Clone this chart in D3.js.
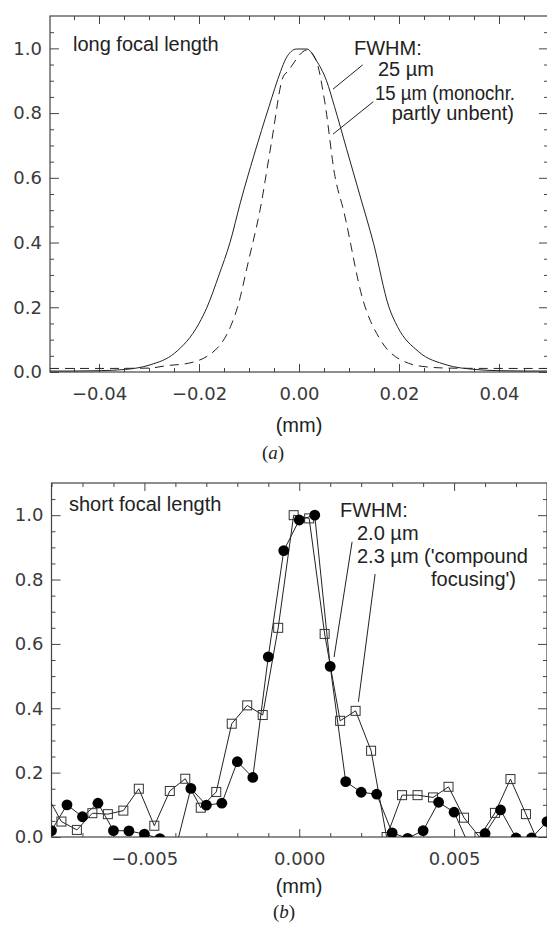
<!DOCTYPE html>
<html><head><meta charset="utf-8">
<script src="https://cdn.jsdelivr.net/npm/d3@7"></script>
<style>
html,body{margin:0;padding:0;background:#fff;}
svg{display:block;}
</style></head><body>
<script>
// ---------- Panel (a): long focal length ----------
const topSolidX = [-0.0498,-0.0448,-0.0400,-0.0347,-0.0298,-0.0249,-0.0200,-0.0184,-0.0160,-0.0138,-0.0117,-0.0090,-0.0060,-0.0037,-0.0026,-0.0005,0.0016,0.0034,0.0055,0.0071,0.0095,0.0121,0.0149,0.0180,0.0197,0.0239,0.0295,0.0351,0.0400,0.0449,0.0498];
const topSolidY = [0.003,0.003,0.004,0.008,0.022,0.058,0.150,0.20,0.30,0.40,0.525,0.67,0.82,0.928,0.969,0.998,0.998,0.964,0.900,0.82,0.69,0.55,0.398,0.20,0.14,0.063,0.022,0.008,0.004,0.003,0.003];
const topDashX = [-0.0498,-0.0400,-0.0300,-0.0263,-0.0221,-0.0161,-0.0137,-0.0123,-0.0100,-0.0078,-0.0055,-0.0032,-0.0023,0.0016,0.0034,0.0051,0.0072,0.0089,0.0128,0.0163,0.0219,0.0254,0.0300,0.0400,0.0498];
const topDashY = [0.011,0.011,0.012,0.020,0.027,0.078,0.14,0.20,0.35,0.50,0.71,0.911,0.928,0.995,0.964,0.84,0.604,0.50,0.222,0.099,0.027,0.016,0.012,0.011,0.011];
const topXTicks = [-0.04,-0.02,0.00,0.02,0.04];
const topXMinor = [-0.045,-0.035,-0.03,-0.025,-0.015,-0.01,-0.005,0.005,0.01,0.015,0.025,0.03,0.035,0.045];

// ---------- Panel (b): short focal length ----------
const botCircX = [-0.0080,-0.0075,-0.0070,-0.0065,-0.0060,-0.0055,-0.0050,-0.0045,-0.0040,-0.0035,-0.0030,-0.0025,-0.0020,-0.0015,-0.0010,-0.0005,0.0000,0.0005,0.0010,0.0015,0.0020,0.0025,0.0030,0.0035,0.0040,0.0045,0.0050,0.0055,0.0060,0.0065,0.0070,0.0075,0.0080];
const botCircY = [0.020,0.100,0.063,0.105,0.020,0.019,0.009,-0.005,-0.040,0.151,0.099,0.105,0.234,0.185,0.560,0.890,0.985,1.000,0.530,0.172,0.139,0.133,0.013,-0.004,0.020,0.108,0.077,-0.030,0.011,0.084,-0.003,-0.003,0.048];
const botSqX = [-0.00818,-0.00768,-0.00718,-0.00668,-0.00618,-0.00568,-0.00518,-0.00468,-0.00418,-0.00368,-0.00318,-0.00268,-0.00218,-0.00168,-0.00118,-0.00068,-0.00018,0.00032,0.00082,0.00132,0.00182,0.00232,0.00282,0.00332,0.00382,0.00432,0.00482,0.00532,0.00582,0.00632,0.00682,0.00732,0.00782];
const botSqY = [0.135,0.048,0.022,0.074,0.071,0.082,0.150,0.035,0.143,0.181,0.091,0.140,0.352,0.409,0.379,0.650,1.000,0.990,0.631,0.361,0.392,0.268,0.000,0.130,0.130,0.123,0.156,0.060,0.000,0.075,0.180,0.071,-0.040];
const botXTicks = [-0.005,0.000,0.005];
const botXMinor = [-0.008,-0.007,-0.006,-0.004,-0.003,-0.002,-0.001,0.001,0.002,0.003,0.004,0.006,0.007,0.008];

const yTicks = [0.0,0.2,0.4,0.6,0.8,1.0];
const yMinor = [0.05,0.1,0.15,0.25,0.3,0.35,0.45,0.5,0.55,0.65,0.7,0.75,0.85,0.9,0.95,1.05];

const W = 547, H = 925;
const INK = "#222", AX = "#444";
const TICKFONT = "'DejaVu Sans', sans-serif";
const TXTFONT = "'Liberation Sans', Arial, sans-serif";
const FS = 20;

const svg = d3.select("body").append("svg").attr("width", W).attr("height", H);

function drawFrame(g, x, y, xMaj, xMin, fmt, id) {
  const [x0, x1] = x.range(), [yb, yt] = y.range();
  const ax = (sel) => { sel.select(".domain").remove(); sel.selectAll("line").attr("stroke", AX); };
  const lab = (s) => s.selectAll("text").attr("font-family", TICKFONT).attr("font-size", 18).attr("fill", "#3a3a3a");
  g.append("g").attr("transform", `translate(0,${yb})`)
    .call(d3.axisBottom(x).tickValues(xMaj).tickSizeInner(-8).tickSizeOuter(0).tickPadding(15).tickFormat(fmt))
    .call(ax).call(lab);
  g.append("g").attr("transform", `translate(0,${yb})`)
    .call(d3.axisBottom(x).tickValues(xMin).tickSizeInner(-4).tickSizeOuter(0).tickFormat(""))
    .call(ax);
  g.append("g").attr("transform", `translate(0,${yt})`)
    .call(d3.axisTop(x).tickValues(xMaj).tickSizeInner(-8).tickSizeOuter(0).tickFormat("")).call(ax);
  g.append("g").attr("transform", `translate(0,${yt})`)
    .call(d3.axisTop(x).tickValues(xMin).tickSizeInner(-4).tickSizeOuter(0).tickFormat("")).call(ax);
  g.append("g").attr("transform", `translate(${x0},0)`)
    .call(d3.axisLeft(y).tickValues(yTicks).tickSizeInner(-9).tickSizeOuter(0).tickPadding(8).tickFormat(d3.format(".1f")))
    .call(ax).call(lab);
  g.append("g").attr("transform", `translate(${x0},0)`)
    .call(d3.axisLeft(y).tickValues(yMinor).tickSizeInner(-4).tickSizeOuter(0).tickFormat("")).call(ax);
  g.append("g").attr("transform", `translate(${x1},0)`)
    .call(d3.axisRight(y).tickValues(yTicks).tickSizeInner(-9).tickSizeOuter(0).tickFormat("")).call(ax);
  g.append("g").attr("transform", `translate(${x1},0)`)
    .call(d3.axisRight(y).tickValues(yMinor).tickSizeInner(-4).tickSizeOuter(0).tickFormat("")).call(ax);
  g.append("rect").attr("x", x0).attr("y", yt).attr("width", x1 - x0).attr("height", yb - yt)
    .attr("fill", "none").attr("stroke", AX).attr("stroke-width", 1.2);
  svg.append("defs").append("clipPath").attr("id", id)
    .append("rect").attr("x", x0).attr("y", yt).attr("width", x1 - x0).attr("height", yb - yt);
}

function text(g, x, y, s, anchor, size) {
  return g.append("text").attr("x", x).attr("y", y).attr("text-anchor", anchor || "start")
    .attr("font-family", TXTFONT).attr("font-size", size || FS).attr("fill", INK).text(s);
}
function caption(g, x, y, letter) {
  const cap = g.append("text").attr("x", x).attr("y", y).attr("text-anchor", "middle")
    .attr("font-family", "'Liberation Serif', 'Times New Roman', serif").attr("font-size", 19).attr("fill", INK);
  cap.append("tspan").text("(");
  cap.append("tspan").attr("font-style", "italic").text(letter);
  cap.append("tspan").text(")");
}
function leader(g, x, y, a, b) {
  g.append("line").attr("x1", x(a[0])).attr("y1", y(a[1])).attr("x2", x(b[0])).attr("y2", y(b[1]))
    .attr("stroke", INK).attr("stroke-width", 1);
}

// ---------- Panel (a) ----------
{
  const x = d3.scaleLinear().domain([-0.0498, 0.0498]).range([50, 548]);
  const y = d3.scaleLinear().domain([0, 1.1]).range([372, 16]);
  const g = svg.append("g");
  drawFrame(g, x, y, topXTicks, topXMinor, d3.format(".2f"), "clipA");
  const pg = g.append("g").attr("clip-path", "url(#clipA)");
  const line = d3.line().x(d => x(d[0])).y(d => y(d[1])).curve(d3.curveMonotoneX);
  pg.append("path").datum(d3.zip(topSolidX, topSolidY)).attr("d", line)
    .attr("fill", "none").attr("stroke", INK).attr("stroke-width", 1);
  pg.append("path").datum(d3.zip(topDashX, topDashY)).attr("d", line)
    .attr("fill", "none").attr("stroke", INK).attr("stroke-width", 1).attr("stroke-dasharray", "9,6");

  text(g, 73, 51, "long focal length");
  text(g, 354, 55, "FWHM:");
  text(g, 378, 76, "25 \u00B5m");
  text(g, 375, 100, "15 \u00B5m (monochr.").attr("textLength", 140).attr("lengthAdjust", "spacingAndGlyphs");
  text(g, 514, 120, "partly unbent)", "end");
  leader(g, x, y, [0.01274, 0.949], [0.0068, 0.874]);
  leader(g, x, y, [0.01484, 0.835], [0.0068, 0.735]);
  text(g, 299, 432, "(mm)", "middle");
  caption(g, 273, 459, "a");
}

// ---------- Panel (b) ----------
{
  const x = d3.scaleLinear().domain([-0.008, 0.008]).range([51.5, 547]);
  const y = d3.scaleLinear().domain([0, 1.1]).range([837, 483]);
  const g = svg.append("g");
  drawFrame(g, x, y, botXTicks, botXMinor, d3.format(".3f"), "clipB");
  const pg = g.append("g").attr("clip-path", "url(#clipB)");
  const line = d3.line().x(d => x(d[0])).y(d => y(d[1]));
  const sq = d3.zip(botSqX, botSqY), ci = d3.zip(botCircX, botCircY);
  pg.append("path").datum(sq).attr("d", line).attr("fill", "none").attr("stroke", INK).attr("stroke-width", 1);
  pg.append("path").datum(ci).attr("d", line).attr("fill", "none").attr("stroke", INK).attr("stroke-width", 1);
  const s = 9;
  pg.selectAll("rect.sq").data(sq).join("rect").attr("class", "sq")
    .attr("x", d => x(d[0]) - s / 2).attr("y", d => y(d[1]) - s / 2).attr("width", s).attr("height", s)
    .attr("fill", "none").attr("stroke", "#333").attr("stroke-width", 1);
  pg.selectAll("circle.ci").data(ci).join("circle").attr("class", "ci")
    .attr("cx", d => x(d[0])).attr("cy", d => y(d[1])).attr("r", 5.4).attr("fill", "#000");

  text(g, 69, 511, "short focal length");
  text(g, 340, 517, "FWHM:");
  text(g, 357, 540, "2.0 \u00B5m");
  text(g, 357, 563, "2.3 \u00B5m ('compound");
  text(g, 516, 586, "focusing')", "end");
  leader(g, x, y, [0.001706, 0.917], [0.001124, 0.559]);
  leader(g, x, y, [0.00245, 0.817], [0.00191, 0.420]);
  text(g, 299, 893, "(mm)", "middle");
  caption(g, 284, 918, "b");
}
</script>
</body></html>
